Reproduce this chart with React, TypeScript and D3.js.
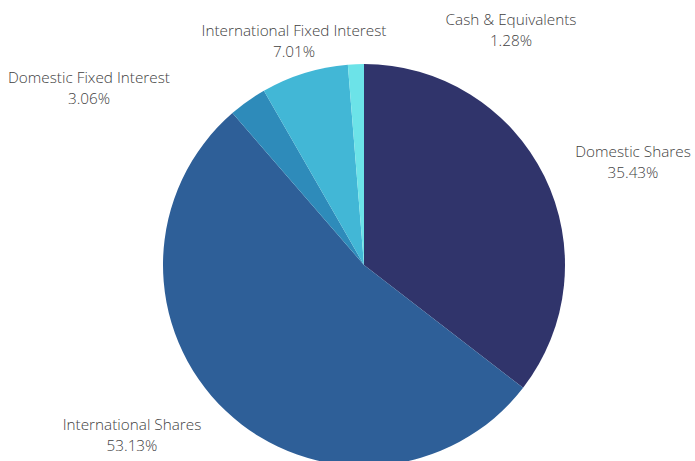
import * as d3 from "d3";

// данные диаграммы
const categories = [
  "Domestic Shares",
  "International Shares",
  "Domestic Fixed Interest",
  "International Fixed Interest",
  "Cash & Equivalents",
];
const values = [35.43, 53.13, 3.06, 7.01, 1.28];
const colors = ["#30346b", "#2e5f98", "#2e8bba", "#42b7d6", "#6ce3e8"];

// сдвиги подписей относительно центра (первая строка)
const labelOffsets: [number, number][] = [
  [269, -108],
  [-232, 165],
  [-275, -182],
  [-70, -229],
  [147, -240],
];

const width = 695;
const height = 461;
const cx = 364;
const cy = 265;
const radius = 201;

export default function App() {
  const pie = d3
    .pie<number>()
    .sort(null)
    .value((d) => d);
  const arc = d3
    .arc<d3.PieArcDatum<number>>()
    .innerRadius(0)
    .outerRadius(radius);
  const arcs = pie(values);

  return (
    <svg
      width={width}
      height={height}
      style={{ position: "fixed", left: 0, top: 0, background: "#fff" }}
    >
      <g transform={`translate(${cx},${cy})`}>
        {arcs.map((a, i) => (
          <path key={i} d={arc(a) ?? ""} fill={colors[i]} />
        ))}
        {arcs.map((a, i) => (
          <text
            key={"t" + i}
            x={labelOffsets[i][0]}
            y={labelOffsets[i][1]}
            textAnchor="middle"
            fontFamily="'Open Sans', sans-serif"
            fontWeight={300}
            fontSize={15.3}
            fill="#3f3f3f"
          >
            <tspan x={labelOffsets[i][0]}>{categories[i]}</tspan>
            <tspan x={labelOffsets[i][0]} dy={21}>
              {values[i].toFixed(2)}%
            </tspan>
          </text>
        ))}
      </g>
    </svg>
  );
}
